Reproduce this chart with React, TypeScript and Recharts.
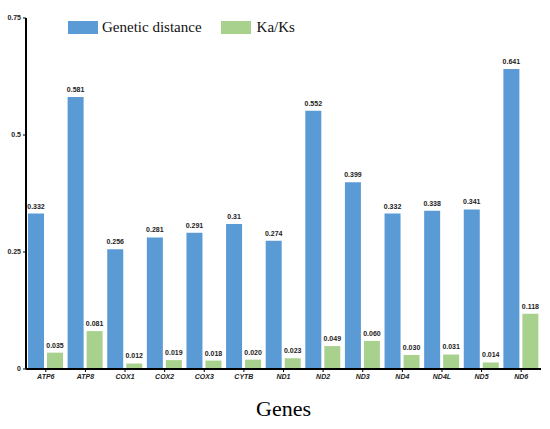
import React from 'react';
import { BarChart, Bar, XAxis, YAxis, Legend, LabelList } from 'recharts';

const genes = ['ATP6', 'ATP8', 'COX1', 'COX2', 'COX3', 'CYTB', 'ND1', 'ND2', 'ND3', 'ND4', 'ND4L', 'ND5', 'ND6'];
const geneticDistance = [0.332, 0.581, 0.256, 0.281, 0.291, 0.31, 0.274, 0.552, 0.399, 0.332, 0.338, 0.341, 0.641];
const kaKs = [0.035, 0.081, 0.012, 0.019, 0.018, 0.02, 0.023, 0.049, 0.06, 0.03, 0.031, 0.014, 0.118];
const yTicks = [0, 0.25, 0.5, 0.75];

const BLUE = '#5B9BD5';
const GREEN = '#A9D18E';

const data = genes.map((gene, i) => ({
  gene,
  distance: geneticDistance[i],
  kaks: kaKs[i],
}));

const legendItems = [
  { name: 'Genetic distance', color: BLUE },
  { name: 'Ka/Ks', color: GREEN },
];

const ChartLegend: React.FC = () => (
  <div style={{ display: 'flex', alignItems: 'center', fontFamily: '"Liberation Serif", "Times New Roman", serif', fontSize: 15 }}>
    {legendItems.map((item, i) => (
      <div key={item.name} style={{ display: 'flex', alignItems: 'center', marginRight: i === 0 ? 19 : 0 }}>
        <span style={{ display: 'inline-block', width: 30, height: 13, background: item.color, marginRight: i === 0 ? 4 : 6 }} />
        <span style={{ color: '#111' }}>{item.name}</span>
      </div>
    ))}
  </div>
);

const tickFont = { fontFamily: '"Liberation Sans", Arial, sans-serif', fontSize: 7, fontWeight: 700, fill: '#222' };

const App: React.FC = () => {
  return (
    <div style={{ position: 'absolute', left: 0, top: 0, width: 550, height: 429, background: '#fff' }}>
      <BarChart
        width={550}
        height={429}
        data={data}
        margin={{ top: 18, right: 9, left: 0, bottom: 0 }}
        barSize={16}
        barGap={3}
      >
        <XAxis
          dataKey="gene"
          height={60}
          stroke="#000"
          axisLine={{ strokeWidth: 2 }}
          tickSize={3}
          tick={{ ...tickFont, fontStyle: 'italic' }}
          interval={0}
          label={{
            value: 'Genes',
            position: 'insideBottom',
            offset: 13,
            style: { fontFamily: '"Liberation Serif", "Times New Roman", serif', fontSize: 22, fill: '#000' },
          }}
        />
        <YAxis
          width={26}
          domain={[0, 0.75]}
          ticks={yTicks}
          stroke="#000"
          axisLine={{ strokeWidth: 2 }}
          tickSize={3}
          tick={tickFont}
          tickFormatter={(v: number) => String(v)}
        />
        <Legend
          verticalAlign="middle"
          align="center"
          content={<ChartLegend />}
          wrapperStyle={{ position: 'absolute', top: 19, left: 68, width: 'auto' }}
        />
        <Bar dataKey="distance" name="Genetic distance" fill={BLUE} isAnimationActive={false}>
          <LabelList dataKey="distance" position="top" offset={5} fill="#222" style={tickFont} formatter={(v: number) => String(v)} />
        </Bar>
        <Bar dataKey="kaks" name="Ka/Ks" fill={GREEN} isAnimationActive={false}>
          <LabelList dataKey="kaks" position="top" offset={5} fill="#222" style={tickFont} formatter={(v: number) => v.toFixed(3)} />
        </Bar>
      </BarChart>
    </div>
  );
};

export default App;
